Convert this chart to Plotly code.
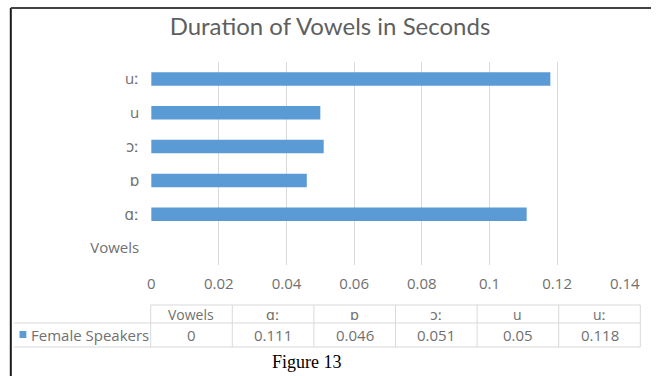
import plotly.graph_objects as go

# Data
categories = ["Vowels", "ɑː", "ɒ", "ɔː", "u", "uː"]
female_speakers = [0, 0.111, 0.046, 0.051, 0.05, 0.118]
series_name = "Female Speakers"
x_ticks = [0, 0.02, 0.04, 0.06, 0.08, 0.1, 0.12, 0.14]
x_tick_labels = ["0", "0.02", "0.04", "0.06", "0.08", "0.1", "0.12", "0.14"]

W, H = 666, 376
BLUE = "#5B9BD5"
GRAY_TXT = "#707070"
GRID = "#D9D9D9"
FONT = "Open Sans, DejaVu Sans, sans-serif"
TITLE_FONT = "Lato, Open Sans, sans-serif"


def px(x):
    return x / W


def py(y):
    return 1 - y / H


fig = go.Figure()
fig.add_trace(go.Bar(
    x=female_speakers, y=categories, orientation="h",
    marker=dict(color=BLUE, line=dict(width=0)),
    name=series_name, showlegend=False,
))

fig.update_layout(
    width=W, height=H,
    margin=dict(l=0, r=0, t=0, b=0),
    paper_bgcolor="white", plot_bgcolor="white",
    bargap=0.6,
    font=dict(family=FONT, color=GRAY_TXT, size=15),
    title=dict(text="Duration of Vowels in Seconds", x=330 / W, xanchor="center",
               y=py(27), yanchor="middle",
               font=dict(family=TITLE_FONT, size=24, color="#5f5f5f")),
    xaxis=dict(domain=[px(151.5), px(639)], range=[0, 0.14],
               tickvals=x_ticks, ticktext=x_tick_labels,
               showgrid=True, gridcolor=GRID, gridwidth=1,
               zeroline=False, showline=False,
               ticks="outside", ticklen=5, tickcolor="rgba(0,0,0,0)",
               tickfont=dict(size=15, color=GRAY_TXT)),
    yaxis=dict(domain=[py(265), py(62)], categoryorder="array", categoryarray=categories,
               showgrid=False, zeroline=False, showline=False,
               ticks="outside", ticklen=8, tickcolor="rgba(0,0,0,0)",
               tickfont=dict(size=15, color=GRAY_TXT)),
)

shapes = []
# Outer frame (left and top edges)
shapes.append(dict(type="line", xref="paper", yref="paper", x0=px(7), x1=px(7), y0=py(8), y1=0,
                   line=dict(color="#1a1a1a", width=2)))
shapes.append(dict(type="line", xref="paper", yref="paper", x0=px(7), x1=1, y0=py(8), y1=py(8),
                   line=dict(color="#444444", width=2)))

# Data table grid
col_left, col_right = 151, 655
n = len(categories)
col_w = (col_right - col_left) / n
row_top, row_mid, row_bot = 305, 323, 347
table_left = 10
shapes.append(dict(type="line", xref="paper", yref="paper", x0=px(col_left), x1=px(col_right),
                   y0=py(row_top), y1=py(row_top), line=dict(color=GRID, width=1)))
for y in (row_mid, row_bot):
    shapes.append(dict(type="line", xref="paper", yref="paper", x0=px(table_left), x1=px(col_right),
                       y0=py(y), y1=py(y), line=dict(color=GRID, width=1)))
for i in range(n + 1):
    x = col_left + i * col_w
    shapes.append(dict(type="line", xref="paper", yref="paper", x0=px(x), x1=px(x),
                       y0=py(row_top), y1=py(row_bot), line=dict(color=GRID, width=1)))
# Legend key square
shapes.append(dict(type="rect", xref="paper", yref="paper", x0=px(16), x1=px(23),
                   y0=py(338), y1=py(331), fillcolor=BLUE, line=dict(width=0)))
fig.update_layout(shapes=shapes)

annotations = []
for i, (cat, val) in enumerate(zip(categories, female_speakers)):
    cx = col_left + (i + 0.5) * col_w
    annotations.append(dict(x=px(cx), y=py((row_top + row_mid) / 2), xref="paper", yref="paper",
                            text=cat, showarrow=False, xanchor="center", yanchor="middle",
                            font=dict(size=14, color=GRAY_TXT)))
    annotations.append(dict(x=px(cx), y=py((row_mid + row_bot) / 2), xref="paper", yref="paper",
                            text=f"{val:g}", showarrow=False, xanchor="center", yanchor="middle",
                            font=dict(size=15, color=GRAY_TXT)))
annotations.append(dict(x=px(26), y=py((row_mid + row_bot) / 2), xref="paper", yref="paper",
                        text=series_name, showarrow=False, xanchor="left", yanchor="middle",
                        font=dict(size=15, color=GRAY_TXT)))
annotations.append(dict(x=px(312), y=py(362), xref="paper", yref="paper",
                        text="Figure 13", showarrow=False, xanchor="center", yanchor="middle",
                        font=dict(family="Liberation Serif, serif", size=18, color="black")))
fig.update_layout(annotations=annotations)

fig.write_html("out.html")
